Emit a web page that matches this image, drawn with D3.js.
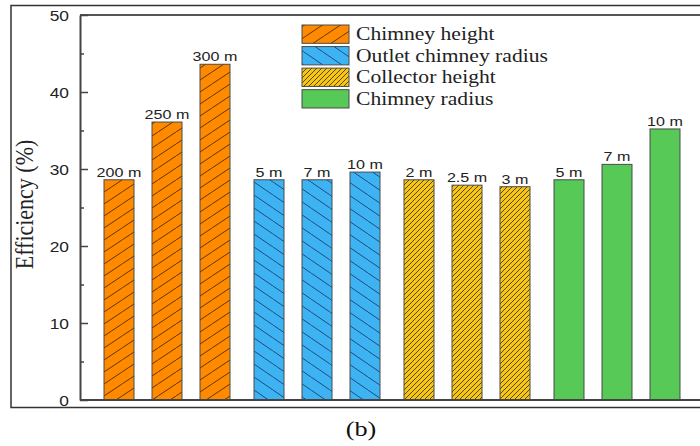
<!DOCTYPE html>
<html><head><meta charset="utf-8">
<script src="https://cdn.jsdelivr.net/npm/d3@7"></script>
<style>body{margin:0;background:#fff}</style>
</head><body>
<script>
// ---- data ----
const categories = ["Chimney height", "Outlet chimney radius", "Collector height", "Chimney radius"];
const chimneyHeightLabels = ["200 m", "250 m", "300 m"];
const chimneyHeightValues = [28.6, 36.1, 43.6];
const outletRadiusLabels = ["5 m", "7 m", "10 m"];
const outletRadiusValues = [28.6, 28.6, 29.6];
const collectorHeightLabels = ["2 m", "2.5 m", "3 m"];
const collectorHeightValues = [28.6, 27.9, 27.7];
const chimneyRadiusLabels = ["5 m", "7 m", "10 m"];
const chimneyRadiusValues = [28.6, 30.6, 35.2];
const yTicks = [0, 10, 20, 30, 40, 50];
const yMinorTicks = [5, 15, 25, 35, 45];
const yLabel = "Efficiency (%)";
const caption = "(b)";

const groupLabels = [chimneyHeightLabels, outletRadiusLabels, collectorHeightLabels, chimneyRadiusLabels];
const groupValues = [chimneyHeightValues, outletRadiusValues, collectorHeightValues, chimneyRadiusValues];

const W = 700, H = 446, SX = 1.24;
const svg = d3.select("body").append("svg").attr("width", W).attr("height", H);
svg.append("rect").attr("width", W).attr("height", H).attr("fill", "#fff");

const defs = svg.append("defs");
const styles = [
  {id: "p0", fill: "#FF8A00", line: "#5e3500", w: 18, h: 12, dir: "/", sw: 1},
  {id: "p1", fill: "#3DB3F3", line: "#1d4d7a", w: 19, h: 13, dir: "\\", sw: 1},
  {id: "p2", fill: "#F5C518", line: "#5e4600", w: 5, h: 5, dir: "/", sw: 1},
  {id: "p3", fill: "#57C957", line: null}
];
styles.forEach(s => {
  const p = defs.append("pattern").attr("id", s.id).attr("patternUnits", "userSpaceOnUse")
    .attr("width", s.w || 10).attr("height", s.h || 10);
  p.append("rect").attr("width", s.w || 10).attr("height", s.h || 10).attr("fill", s.fill);
  if (s.line) {
    const d = s.dir === "/" ? `M0,${s.h} L${s.w},0 M${-s.w},${s.h} L0,0 M${s.w},${s.h} L${2*s.w},0`
                            : `M0,0 L${s.w},${s.h} M${-s.w},0 L0,${s.h} M${s.w},0 L${2*s.w},${s.h}`;
    p.append("path").attr("d", d).attr("stroke", s.line).attr("stroke-width", s.sw).attr("fill", "none");
  }
});

// outer frame
svg.append("rect").attr("x", 11).attr("y", 5.5).attr("width", 720).attr("height", 402)
  .attr("fill", "none").attr("stroke", "#333").attr("stroke-width", 1.5);

const y = d3.scaleLinear().domain([0, 50]).range([400, 15]);
const x0 = d3.scaleBand().domain(categories).range([80, 704]).paddingInner(0.16).paddingOuter(0.16);
const x1 = d3.scaleBand().domain([0, 1, 2]).range([0, x0.bandwidth()]).paddingInner(0.375).paddingOuter(0);

// plot frame lines
svg.append("line").attr("x1", 80).attr("x2", 740).attr("y1", y(50)).attr("y2", y(50))
  .attr("stroke", "#555").attr("stroke-width", 2);

// bars
categories.forEach((c, gi) => {
  const g = svg.append("g").attr("transform", `translate(${x0(c)},0)`);
  const data = groupValues[gi].map((v, i) => ({v, i, label: groupLabels[gi][i]}));
  g.selectAll("rect").data(data).join("rect")
    .attr("x", d => x1(d.i)).attr("width", x1.bandwidth())
    .attr("y", d => y(d.v)).attr("height", d => y(0) - y(d.v))
    .attr("fill", `url(#p${gi})`).attr("stroke", "#4a4a4a").attr("stroke-width", 1);
  g.selectAll("text").data(data).join("text")
    .attr("transform", d => `translate(${x1(d.i) + x1.bandwidth()/2},${y(d.v) - 3}) scale(${SX},1)`)
    .attr("text-anchor", "middle")
    .attr("font-family", "Liberation Sans, Arial, sans-serif").attr("font-size", 13)
    .attr("fill", "#222").text(d => d.label);
});

// bottom axis line
svg.append("line").attr("x1", 80).attr("x2", 740).attr("y1", y(0)).attr("y2", y(0))
  .attr("stroke", "#444").attr("stroke-width", 2);

// y axis
const yAxis = svg.append("g").attr("transform", "translate(80,0)")
  .call(d3.axisLeft(y).tickValues(yTicks).tickSize(-8).tickSizeOuter(0).tickPadding(11).tickFormat(d3.format("d")));
yAxis.select(".domain").attr("stroke", "#444").attr("stroke-width", 2);
yAxis.selectAll(".tick line").attr("stroke", "#444").attr("stroke-width", 1.5);
yAxis.selectAll(".tick text")
  .attr("x", null).attr("dy", "0.36em")
  .attr("transform", `translate(-11,0) scale(${SX},1)`)
  .attr("font-family", "Liberation Sans, Arial, sans-serif").attr("font-size", 14).attr("fill", "#222");
const yMinor = svg.append("g").attr("transform", "translate(80,0)")
  .call(d3.axisLeft(y).tickValues(yMinorTicks).tickSize(-4).tickSizeOuter(0).tickFormat(""));
yMinor.select(".domain").remove();
yMinor.selectAll(".tick line").attr("stroke", "#444").attr("stroke-width", 1.5);

// y title
svg.append("text")
  .attr("transform", `translate(33,${(y(0)+y(50))/2 - 3}) scale(1.1,1) rotate(-90)`)
  .attr("text-anchor", "middle")
  .attr("font-family", "Liberation Serif, Times New Roman, serif").attr("font-size", 22)
  .attr("fill", "#222").text(yLabel);

// legend
const leg = svg.append("g");
const legY = d3.scaleBand().domain(categories).range([25, 108]).paddingInner(0.15).paddingOuter(0);
categories.forEach((c, i) => {
  leg.append("rect").attr("x", 302).attr("y", legY(c)).attr("width", 47).attr("height", legY.bandwidth())
    .attr("fill", `url(#p${i})`).attr("stroke", "#4a4a4a").attr("stroke-width", 1);
  leg.append("text")
    .attr("transform", `translate(356,${legY(c) + legY.bandwidth()/2 + 6}) scale(1.2,1)`)
    .attr("font-family", "Liberation Serif, Times New Roman, serif").attr("font-size", 18)
    .attr("fill", "#222").text(c);
});

// caption
svg.append("text")
  .attr("transform", `translate(361,436) scale(1.25,1)`)
  .attr("text-anchor", "middle")
  .attr("font-family", "Liberation Serif, Times New Roman, serif").attr("font-size", 21)
  .attr("fill", "#111").text(caption);
</script>
</body></html>
